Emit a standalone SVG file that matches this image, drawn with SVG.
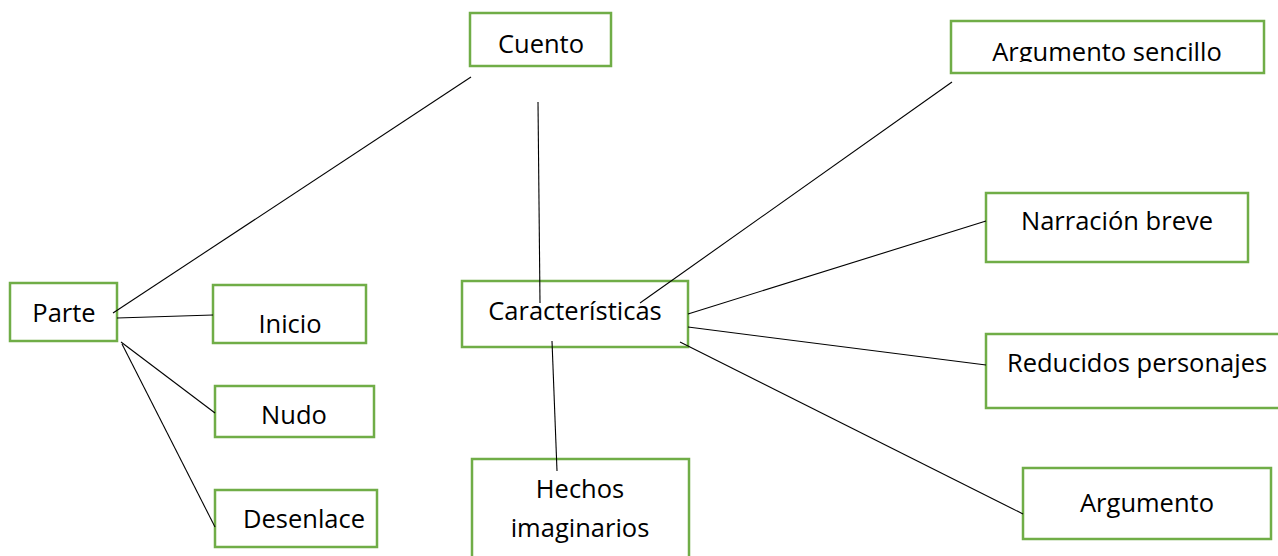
<svg xmlns="http://www.w3.org/2000/svg" width="1278" height="556" viewBox="0 0 1278 556">
<style>
.box{fill:#ffffff;stroke:#70AD47;stroke-width:2.5}
.lbl{font-family:"Open Sans","Noto Sans","Liberation Sans",sans-serif;font-size:25.5px;fill:#000;text-anchor:middle}
.con{stroke:#000;stroke-width:1.1;fill:none}
</style>
<defs>
<clipPath id="clipArg"><rect x="940" y="0" width="340" height="62"/></clipPath>
</defs>
<rect width="1278" height="556" fill="#fff"/>
<g id="node-parte"><rect class="box" x="10" y="283" width="107" height="58"/><text class="lbl" x="64" y="322">Parte</text></g>
<g id="node-inicio"><rect class="box" x="213" y="285" width="153" height="58"/><text class="lbl" x="290" y="333">Inicio</text></g>
<g id="node-nudo"><rect class="box" x="215" y="386" width="159" height="51"/><text class="lbl" x="294" y="424">Nudo</text></g>
<g id="node-desenlace"><rect class="box" x="215" y="490" width="162" height="57"/><text class="lbl" x="304" y="528">Desenlace</text></g>
<g id="node-cuento"><rect class="box" x="470" y="13" width="141" height="53"/><text class="lbl" x="541" y="53">Cuento</text></g>
<g id="node-argumento-sencillo"><rect class="box" x="951" y="21" width="313" height="52"/><text class="lbl" x="1107" y="61" clip-path="url(#clipArg)">Argumento sencillo</text></g>
<g id="node-caracteristicas"><rect class="box" x="462" y="281" width="226" height="66"/><text class="lbl" x="575" y="320">Características</text></g>
<g id="node-hechos"><rect class="box" x="472" y="459" width="217" height="110"/><text class="lbl" x="580" y="498">Hechos</text><text class="lbl" x="580" y="537">imaginarios</text></g>
<g id="node-narracion"><rect class="box" x="986" y="193" width="262" height="69"/><text class="lbl" x="1117" y="230">Narración breve</text></g>
<g id="node-reducidos"><rect class="box" x="986" y="334" width="300" height="74"/><text class="lbl" x="1137" y="372">Reducidos personajes</text></g>
<g id="node-argumento"><rect class="box" x="1023" y="468" width="248" height="71"/><text class="lbl" x="1147" y="512">Argumento</text></g>
<g id="connectors">
<line class="con" x1="113" y1="313" x2="471" y2="77"/>
<line class="con" x1="117" y1="318" x2="213" y2="315"/>
<line class="con" x1="121" y1="342" x2="215" y2="413"/>
<line class="con" x1="122" y1="344" x2="215" y2="527"/>
<line class="con" x1="538" y1="102" x2="540" y2="303"/>
<line class="con" x1="640" y1="303" x2="952" y2="82"/>
<line class="con" x1="688" y1="314" x2="986" y2="221"/>
<line class="con" x1="688" y1="327" x2="986" y2="365"/>
<line class="con" x1="680" y1="342" x2="1023" y2="514"/>
<line class="con" x1="552" y1="341" x2="557" y2="471"/>
</g>
</svg>
